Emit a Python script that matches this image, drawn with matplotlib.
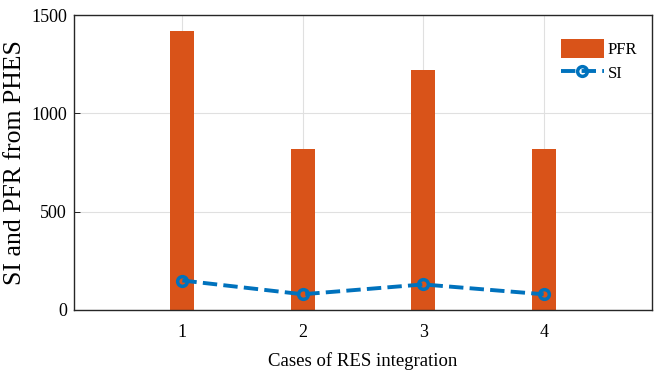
import matplotlib.pyplot as plt
import numpy as np

plt.rcParams['font.family'] = ['Liberation Serif', 'DejaVu Serif']

cases = [1, 2, 3, 4]
pfr = [1420, 820, 1220, 820]
si = [150, 80, 130, 80]

fig = plt.figure(figsize=(6.63, 3.81), dpi=100)
ax = fig.add_axes([74 / 663, 1 - 310 / 381, 578 / 663, 295 / 381])

bars = ax.bar(cases, pfr, width=0.2, color='#D95319', label='PFR', zorder=2)
line, = ax.plot(cases, si, '--o', color='#0072BD', lw=2.8, markersize=7,
                markerfacecolor='none', markeredgewidth=2.5, label='SI', zorder=3)

ax.set_xlim(0.1, 4.9)
ax.set_ylim(0, 1500)
ax.set_xticks(cases)
ax.set_yticks([0, 500, 1000, 1500])
ax.grid(True, color='#e0e0e0', lw=0.8, zorder=0)
ax.set_axisbelow(True)
ax.tick_params(direction='in', labelsize=13, length=4, width=0.6)
ax.tick_params(axis='x', pad=10)
ax.tick_params(axis='y', pad=5)
for s in ax.spines.values():
    s.set_linewidth(1.0)
    s.set_color('#262626')

ax.set_xlabel('Cases of RES integration', fontsize=13.5, labelpad=8)
ax.set_ylabel('SI and PFR from PHES', fontsize=18.5, labelpad=4)

leg = ax.legend([bars, line], ['PFR', 'SI'], loc='upper right', frameon=False,
                fontsize=12, handlelength=2.6, handleheight=1.4,
                handletextpad=0.2, labelspacing=0.3,
                bbox_to_anchor=(1.0, 0.97))

fig.savefig('out.png', dpi=100)
